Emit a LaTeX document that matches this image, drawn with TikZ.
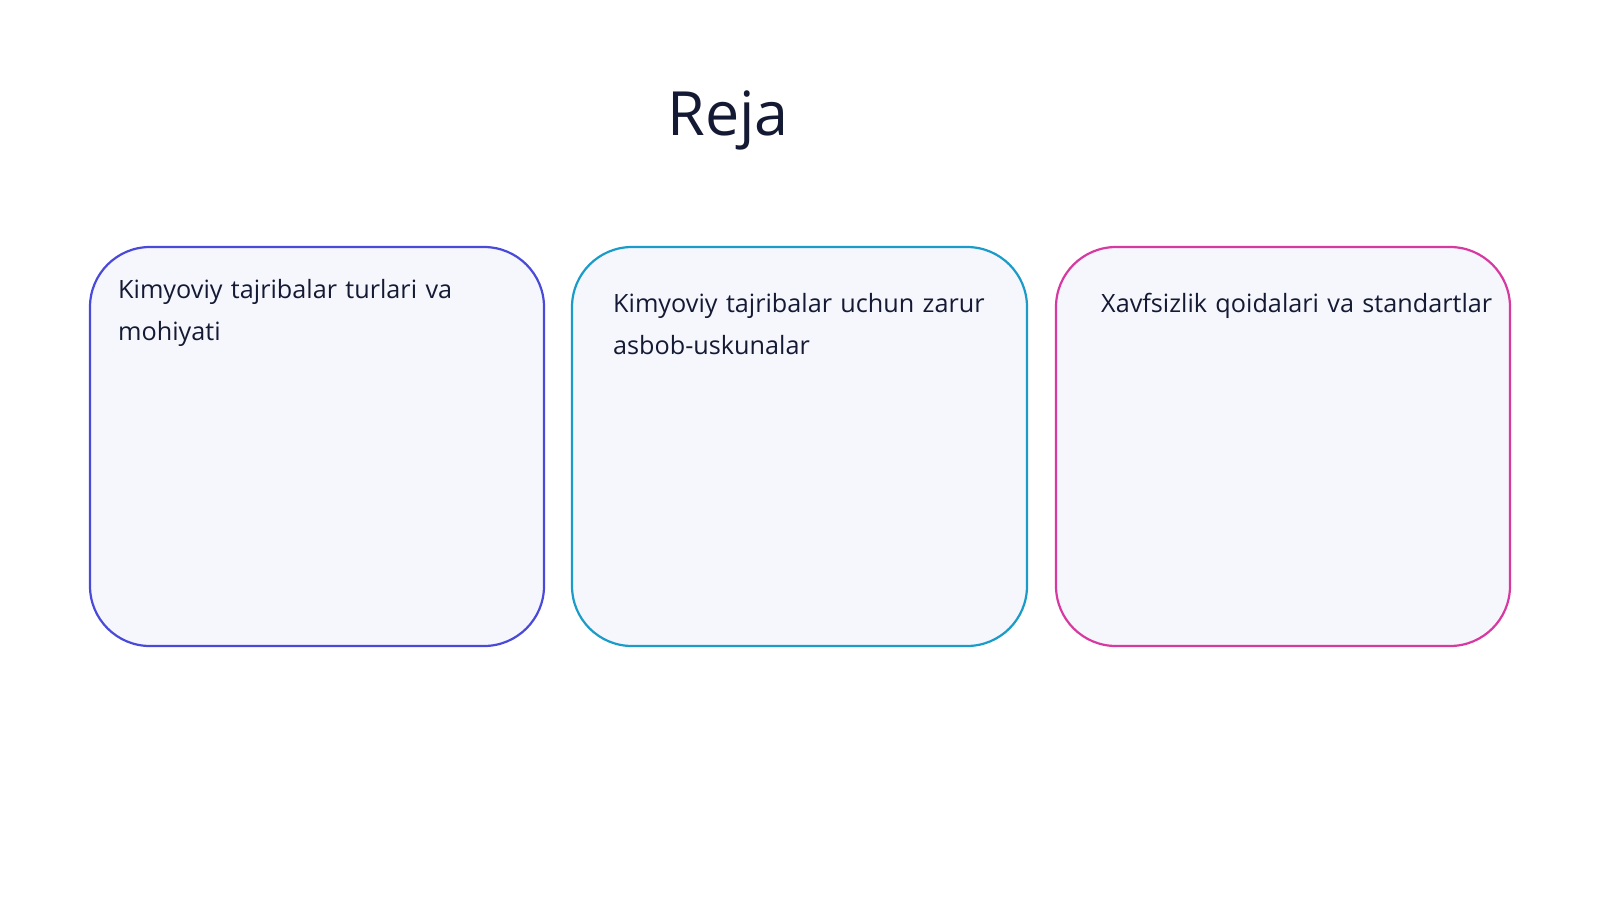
\documentclass[tikz,border=0pt]{standalone}
\usepackage{fontspec}
\setmainfont{Open Sans}
\definecolor{cA}{HTML}{4A4AD8}
\definecolor{cB}{HTML}{1A9BC8}
\definecolor{cC}{HTML}{D63AA0}
\definecolor{fillc}{HTML}{F6F6FD}
\definecolor{ttl}{HTML}{141A33}
\begin{document}
\begin{tikzpicture}[x=1pt,y=-1pt,
  card/.style={line width=2.2pt,fill=fillc,rounded corners=60pt},
  lbl/.style={anchor=north west,align=left,inner sep=0pt,font=\fontsize{25.2}{42}\selectfont,text=ttl}]
\useasboundingbox (0,0) rectangle (1600,900);
\node[font=\fontsize{61}{70}\selectfont,text=ttl] (title) at (728,120) {Reja};
\draw[card,draw=cA] (90,247) rectangle (544,646);
\draw[card,draw=cB] (572,247) rectangle (1027,646);
\draw[card,draw=cC] (1056,247) rectangle (1510,646);
\node[lbl,text width=360pt] (t1) at (118,279) {Kimyoviy tajribalar turlari va mohiyati};
\node[lbl,text width=390pt] (t2) at (613,293) {Kimyoviy tajribalar uchun zarur asbob-uskunalar};
\node[lbl,text width=430pt] (t3) at (1101,293) {Xavfsizlik qoidalari va standartlar};
\end{tikzpicture}
\end{document}
